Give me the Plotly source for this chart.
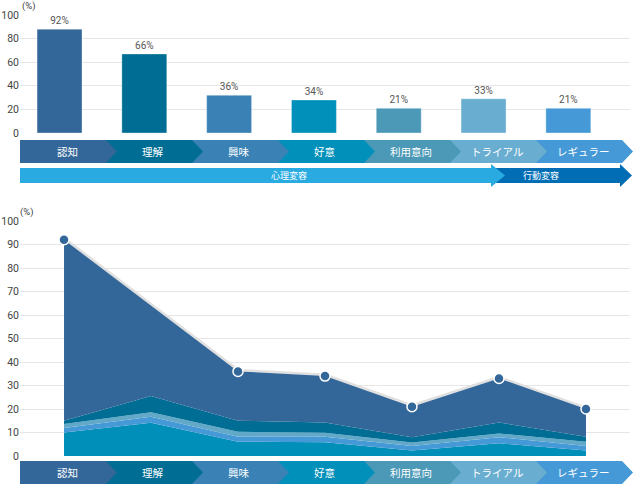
import plotly.graph_objects as go

W, H = 633, 485

# ---------------- data ----------------
stages = ["認知", "理解", "興味", "好意", "利用意向", "トライアル", "レギュラー"]
stage_colors = ["#336699", "#006d94", "#3a82b5", "#0090b9", "#4b99b7", "#69aed0", "#4499d6"]

bar_values = [88, 67, 32, 28, 21, 29, 21]
bar_labels = ["92%", "66%", "36%", "34%", "21%", "33%", "21%"]

total_values = [92, 64, 36, 34, 21, 33, 20]
layer_teal = [10, 14.2, 6.1, 5.8, 2.3, 5.4, 2.3]
layer_blue = [1.9, 2.5, 2.1, 2.4, 2.0, 2.6, 2.0]
layer_light = [1.7, 1.9, 2.1, 1.7, 1.4, 1.6, 1.8]
layer_dark = [1.4, 6.9, 4.7, 4.4, 2.3, 4.7, 2.1]
layer_colors = ["#008fb8", "#4499d6", "#62a8c8", "#006d94"]
top_color = "#336699"

band_labels = ["心理変容", "行動変容"]
band_colors = ["#29abe2", "#006db5"]

top_ticks = [0, 20, 40, 60, 80, 100]
bottom_ticks = [0, 10, 20, 30, 40, 50, 60, 70, 80, 90, 100]

# ---------------- helpers ----------------
def px(x):
    return x / W

def py(y):
    return 1 - y / H

xs = list(range(len(stages)))
fig = go.Figure()

# top bars
fig.add_trace(go.Bar(
    x=xs, y=bar_values, width=0.53,
    marker=dict(color=stage_colors, line=dict(color="rgba(255,255,255,0.35)", width=1)),
    text=bar_labels, textposition="outside", cliponaxis=False,
    textfont=dict(size=10, color="#555555", family="Roboto"),
    xaxis="x", yaxis="y", showlegend=False, hoverinfo="skip",
))

# bottom: grey outline behind areas
fig.add_trace(go.Scatter(
    x=xs, y=total_values, mode="lines",
    line=dict(color="#e0e0e0", width=5),
    xaxis="x2", yaxis="y2", showlegend=False, hoverinfo="skip",
))

layers = [layer_teal, layer_blue, layer_light, layer_dark]
top_layer = [t - sum(l[i] for l in layers) for i, t in enumerate(total_values)]
for vals, col in zip(layers + [top_layer], layer_colors + [top_color]):
    fig.add_trace(go.Scatter(
        x=xs, y=vals, mode="lines", stackgroup="one",
        line=dict(width=0, color=col), fillcolor=col,
        xaxis="x2", yaxis="y2", showlegend=False, hoverinfo="skip",
    ))

mk_x = [x for x, s in zip(xs, stages) if s != "理解"]
mk_y = [v for v, s in zip(total_values, stages) if s != "理解"]
fig.add_trace(go.Scatter(
    x=mk_x, y=mk_y, mode="markers",
    marker=dict(size=10, color=top_color, line=dict(color="white", width=1.5)),
    xaxis="x2", yaxis="y2", showlegend=False, hoverinfo="skip",
))

# ---------------- chevrons ----------------
shapes = []
annotations = []
seg_w, tip = 86, 11
x0 = 20

def chevrons(ytop, ybot):
    mid = (ytop + ybot) / 2
    for i in reversed(range(len(stages))):
        L = x0 + seg_w * i
        R = L + seg_w
        path = (f"M {px(L)},{py(ytop)} L {px(R)},{py(ytop)} L {px(R + tip)},{py(mid)} "
                f"L {px(R)},{py(ybot)} L {px(L)},{py(ybot)} Z")
        shapes.append(dict(type="path", path=path, xref="paper", yref="paper",
                           fillcolor=stage_colors[i], line=dict(width=0), layer="above"))
    for i, s in enumerate(stages):
        L = x0 + seg_w * i
        annotations.append(dict(x=px(L + 47), y=py(mid), xref="paper", yref="paper",
                                text=s, showarrow=False,
                                font=dict(size=10.5, color="white", family="Noto Sans CJK JP"),
                                xanchor="center", yanchor="middle"))

chevrons(140, 163)
chevrons(461, 484)

# second band (心理変容 / 行動変容)
bt, bb, bm = 168, 183, 175.5
ht, hb = 164, 187
shapes.append(dict(type="path", xref="paper", yref="paper", line=dict(width=0),
                   fillcolor=band_colors[1], layer="above",
                   path=(f"M {px(480)},{py(bt)} L {px(620)},{py(bt)} L {px(620)},{py(ht)} "
                         f"L {px(632)},{py(bm)} L {px(620)},{py(hb)} L {px(620)},{py(bb)} "
                         f"L {px(480)},{py(bb)} Z")))
shapes.append(dict(type="path", xref="paper", yref="paper", line=dict(width=0),
                   fillcolor=band_colors[0], layer="above",
                   path=(f"M {px(20)},{py(bt)} L {px(491)},{py(bt)} L {px(491)},{py(ht)} "
                         f"L {px(505)},{py(bm)} L {px(491)},{py(hb)} L {px(491)},{py(bb)} "
                         f"L {px(20)},{py(bb)} Z")))
annotations.append(dict(x=px(289), y=py(bm), xref="paper", yref="paper", text=band_labels[0],
                        showarrow=False, font=dict(size=9, color="white", family="Noto Sans CJK JP")))
annotations.append(dict(x=px(561), y=py(bm), xref="paper", yref="paper", text=band_labels[1],
                        showarrow=False, font=dict(size=9, color="white", family="Noto Sans CJK JP")))

# unit labels
annotations.append(dict(x=px(20), y=py(6), xref="paper", yref="paper", text="(%)",
                        showarrow=False, xanchor="left", yanchor="middle",
                        font=dict(size=9.5, color="#444", family="Roboto")))
annotations.append(dict(x=px(18), y=py(212), xref="paper", yref="paper", text="(%)",
                        showarrow=False, xanchor="left", yanchor="middle",
                        font=dict(size=9.5, color="#444", family="Roboto")))

tickfont = dict(size=10.5, color="#444444", family="Roboto")
dom_x = [px(20), px(630)]

fig.update_layout(
    width=W, height=H, margin=dict(l=0, r=0, t=0, b=0),
    template="none", paper_bgcolor="white", plot_bgcolor="white",
    showlegend=False, shapes=shapes, annotations=annotations,
    xaxis=dict(domain=dom_x, range=[-0.466, 6.727], showticklabels=False, showgrid=False,
               zeroline=False, showline=False, ticks="", automargin=False, anchor="y"),
    yaxis=dict(domain=[py(133), py(15)], range=[0, 100], tickvals=top_ticks,
               gridcolor="#e6e6e6", gridwidth=1, zeroline=False, showline=False, ticks="",
               tickfont=tickfont, automargin=False, anchor="x"),
    xaxis2=dict(domain=dom_x, range=[-0.506, 6.506], showticklabels=False, showgrid=False,
                zeroline=False, showline=False, ticks="", automargin=False, anchor="y2"),
    yaxis2=dict(domain=[py(456), py(221)], range=[0, 100], tickvals=bottom_ticks,
                gridcolor="#e6e6e6", gridwidth=1, zeroline=False, showline=False, ticks="",
                tickfont=tickfont, automargin=False, anchor="x2"),
)

fig.write_html("out.html")
